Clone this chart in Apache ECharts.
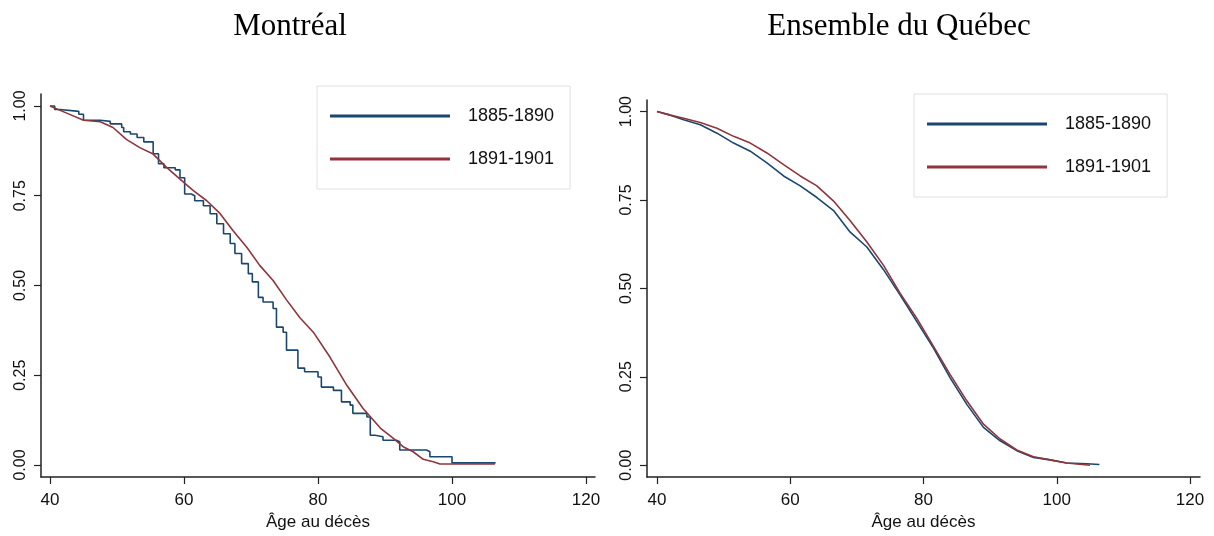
<!DOCTYPE html>
<html>
<head>
<meta charset="utf-8">
<script src="https://cdn.jsdelivr.net/npm/echarts@6/dist/echarts.min.js"></script>
<style>
    html, body { margin: 0; padding: 0; background: #fff; }
    #chart { width: 1214px; height: 536px; }
</style>
</head>
<body>
<div id="chart"></div>
<script>
// Kaplan-Meier survival: [age, survival]
var periods = ['1885-1890', '1891-1901'];
var titles = ['Montréal', 'Ensemble du Québec'];
var x_ticks = [40, 60, 80, 100, 120];
var y_ticks = [0, 0.25, 0.5, 0.75, 1];

var mtl_1885 = [
    [40, 1.0], [40.7, 0.99], [41.5, 0.985], [44.3, 0.977], [45, 0.96], [47.5, 0.957],
    [49, 0.95], [50.7, 0.94], [51, 0.928], [52, 0.922], [53, 0.912], [54, 0.90],
    [55.4, 0.867], [56.2, 0.839], [57, 0.828], [58.7, 0.822], [59.4, 0.80], [60.1, 0.755],
    [61.1, 0.75], [61.6, 0.736], [62.9, 0.722], [63.9, 0.70], [64.9, 0.672], [65.9, 0.644],
    [66.9, 0.617], [67.6, 0.589], [68.6, 0.561], [69.6, 0.533], [70.2, 0.51], [71.1, 0.467],
    [71.8, 0.454], [73.3, 0.436], [73.8, 0.384], [74.8, 0.37], [75.3, 0.32], [77, 0.27],
    [78, 0.26], [80, 0.245], [80.5, 0.217], [82.3, 0.208], [83.5, 0.176], [84.8, 0.167],
    [85.2, 0.144], [87.3, 0.134], [87.8, 0.083], [88.5, 0.079], [89.7, 0.069], [91.7, 0.065],
    [92.2, 0.042], [96.2, 0.037], [96.7, 0.023], [100, 0.006], [106.5, 0.006]
];
var mtl_1891 = [
    [40, 1.0], [42.5, 0.98], [45, 0.96], [47.5, 0.956], [49.4, 0.94], [51.4, 0.907],
    [53.4, 0.884], [55.4, 0.866], [57.4, 0.829], [59.4, 0.796], [61.4, 0.764], [63.4, 0.736],
    [65.4, 0.70], [67.3, 0.653], [69.4, 0.606], [71.3, 0.556], [73.3, 0.514], [75.3, 0.46],
    [77.3, 0.41], [79.3, 0.37], [81.8, 0.30], [84.3, 0.222], [86.7, 0.158], [89.3, 0.103],
    [91.2, 0.075], [92.7, 0.051], [94.2, 0.037], [95.7, 0.016], [97.2, 0.009], [98.2, 0.003],
    [106.4, 0.003]
];
var qc_1885 = [
    [40, 1.0], [42, 0.99], [44, 0.977], [46.5, 0.963], [49, 0.939], [51.5, 0.911],
    [54, 0.888], [56.5, 0.855], [59, 0.818], [61.5, 0.79], [64, 0.757], [66.5, 0.72],
    [69, 0.659], [71.5, 0.617], [74, 0.553], [76.5, 0.481], [79, 0.406], [81.5, 0.331],
    [84, 0.247], [86.5, 0.172], [89, 0.107], [91.5, 0.069], [94, 0.041], [96.5, 0.022],
    [99, 0.015], [101.5, 0.006], [104.5, 0.004], [106.4, 0.002]
];
var qc_1891 = [
    [40, 1.0], [42, 0.99], [44, 0.981], [46.5, 0.969], [49, 0.953], [51.5, 0.93],
    [54, 0.911], [56.5, 0.883], [59, 0.85], [61.5, 0.818], [64, 0.79], [66.5, 0.747],
    [69, 0.691], [71.5, 0.631], [74, 0.565], [76.5, 0.486], [79, 0.415], [81.5, 0.336],
    [84, 0.256], [86.5, 0.182], [89, 0.116], [91.5, 0.074], [94, 0.043], [96.5, 0.024],
    [99, 0.015], [101.5, 0.006], [105, 0.0]
];

var blue = '#1a476f';
var red = '#90353b';
var axis_color = '#222';
var sans = "'Liberation Sans', Arial, sans-serif";
var serif = "'Liberation Serif', 'Times New Roman', serif";

function make_x(grid, min, max){
    return {
        type: 'value',
        gridIndex: grid,
        min: min,
        max: max,
        name: 'Âge au décès',
        nameLocation: 'middle',
        nameGap: 35,
        nameTextStyle: { fontFamily: sans, fontSize: 17, color: '#111' },
        splitLine: { show: false },
        axisLine: { onZero: false, lineStyle: { color: axis_color, width: 1.5 } },
        axisTick: { length: 7, customValues: x_ticks, lineStyle: { color: axis_color, width: 1.2 } },
        axisLabel: { customValues: x_ticks, margin: 15, fontFamily: sans, fontSize: 17, color: '#111' }
    };
}

function make_y(grid, min, max){
    return {
        type: 'value',
        gridIndex: grid,
        min: min,
        max: max,
        splitLine: { show: false },
        axisLine: { onZero: false, lineStyle: { color: axis_color, width: 1.5 } },
        axisTick: { length: 7, customValues: y_ticks, lineStyle: { color: axis_color, width: 1.2 } },
        axisLabel: {
            customValues: y_ticks,
            rotate: 90,
            margin: 12,
            fontFamily: sans,
            fontSize: 16,
            color: '#111',
            formatter: function (v) { return v.toFixed(2); }
        }
    };
}

function make_series(name, data, grid, color, step){
    return {
        name: name,
        type: 'line',
        xAxisIndex: grid,
        yAxisIndex: grid,
        data: data,
        step: step ? 'end' : false,
        symbol: 'none',
        lineStyle: { color: color, width: 1.6 },
        itemStyle: { color: color }
    };
}

function make_legend(left, top){
    return {
        orient: 'vertical',
        left: left,
        top: top,
        data: periods,
        icon: 'rect',
        itemWidth: 120,
        itemHeight: 3,
        itemGap: 25,
        padding: [21, 16, 21, 13],
        borderColor: '#e0e0e0',
        borderWidth: 1,
        selectedMode: false,
        textStyle: { fontFamily: sans, fontSize: 18, color: '#111', padding: [0, 0, 0, 13] }
    };
}

var chart = echarts.init(document.getElementById('chart'));

chart.setOption({
    animation: false,
    backgroundColor: '#fff',
    title: [
        { text: titles[0], left: 285, top: 6, textAlign: 'center',
          textStyle: { fontFamily: serif, fontSize: 31, fontWeight: 'normal', color: '#000' } },
        { text: titles[1], left: 894, top: 6, textAlign: 'center',
          textStyle: { fontFamily: serif, fontSize: 31, fontWeight: 'normal', color: '#000' } }
    ],
    grid: [
        { left: 41, top: 94, width: 554, height: 383 },
        { left: 647, top: 100, width: 553, height: 380 }
    ],
    legend: [make_legend(317, 86), make_legend(914, 94)],
    xAxis: [make_x(0, 38.66, 121.34), make_x(1, 38.5, 121.5)],
    yAxis: [make_y(0, -0.0333, 1.0333), make_y(1, -0.0337, 1.0328)],
    series: [
        make_series(periods[0], mtl_1885, 0, blue, true),
        make_series(periods[1], mtl_1891, 0, red, false),
        make_series(periods[0], qc_1885, 1, blue, false),
        make_series(periods[1], qc_1891, 1, red, false)
    ]
});
</script>
</body>
</html>
